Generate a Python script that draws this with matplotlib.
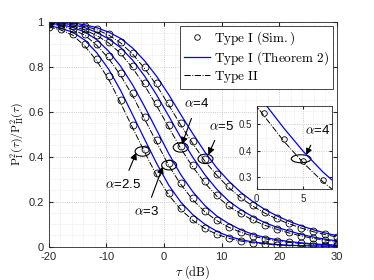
import numpy as np
import matplotlib
matplotlib.use("Agg")
import matplotlib.pyplot as plt
from matplotlib.patches import Ellipse
from matplotlib.ticker import MultipleLocator

plt.rcParams['font.family'] = ['Liberation Sans', 'DejaVu Sans']
plt.rcParams['mathtext.fontset'] = 'cm'
plt.rcParams['axes.unicode_minus'] = False

### data ---------------------------------------------------------------------
tau = np.linspace(-20, 30, 25)   # dB, simulation points

# Type I (Sim.) markers
sim_a25 = [0.978, 0.965, 0.945, 0.900, 0.835, 0.756, 0.650, 0.540, 0.432, 0.326, 0.237, 0.171, 0.122,
           0.084, 0.057, 0.038, 0.026, 0.018, 0.012, 0.008, 0.0055, 0.004, 0.003, 0.002, 0.0015]
sim_a3 = [0.990, 0.983, 0.968, 0.945, 0.902, 0.845, 0.771, 0.682, 0.578, 0.474, 0.370, 0.285, 0.215,
          0.160, 0.120, 0.089, 0.066, 0.048, 0.036, 0.027, 0.020, 0.015, 0.011, 0.008, 0.006]
sim_a4 = [0.995, 0.991, 0.982, 0.966, 0.942, 0.910, 0.866, 0.802, 0.726, 0.637, 0.541, 0.446, 0.363,
          0.290, 0.230, 0.183, 0.150, 0.121, 0.097, 0.079, 0.063, 0.049, 0.038, 0.030, 0.023]
sim_a5 = [0.998, 0.996, 0.992, 0.982, 0.967, 0.944, 0.911, 0.862, 0.800, 0.726, 0.640, 0.550, 0.468,
          0.388, 0.324, 0.268, 0.222, 0.184, 0.152, 0.126, 0.104, 0.085, 0.069, 0.055, 0.044]

# Type I (Theorem 2), blue lines
thm_a25 = [0.983, 0.970, 0.953, 0.918, 0.862, 0.788, 0.693, 0.585, 0.476, 0.369, 0.273, 0.198, 0.142,
           0.100, 0.068, 0.046, 0.031, 0.021, 0.0145, 0.0096, 0.0065, 0.0046, 0.0034, 0.0024, 0.0017]
thm_a3 = [0.993, 0.986, 0.974, 0.954, 0.920, 0.868, 0.801, 0.718, 0.621, 0.517, 0.413, 0.320, 0.244,
          0.183, 0.136, 0.102, 0.075, 0.055, 0.041, 0.031, 0.023, 0.017, 0.0126, 0.0092, 0.0068]
thm_a4 = [0.997, 0.993, 0.986, 0.973, 0.952, 0.923, 0.884, 0.828, 0.757, 0.673, 0.580, 0.485, 0.397,
          0.320, 0.255, 0.202, 0.164, 0.133, 0.107, 0.086, 0.070, 0.055, 0.043, 0.033, 0.026]
thm_a5 = [0.999, 0.997, 0.994, 0.986, 0.973, 0.953, 0.925, 0.882, 0.825, 0.756, 0.675, 0.587, 0.502,
          0.421, 0.350, 0.291, 0.241, 0.200, 0.165, 0.137, 0.113, 0.093, 0.076, 0.061, 0.049]

# Type II, dash-dot lines
t2_a25 = [0.976, 0.963, 0.940, 0.892, 0.826, 0.743, 0.637, 0.527, 0.419, 0.315, 0.229, 0.165, 0.117,
          0.081, 0.055, 0.037, 0.025, 0.017, 0.0115, 0.0077, 0.0053, 0.0039, 0.0029, 0.0019, 0.0014]
t2_a3 = [0.989, 0.981, 0.965, 0.940, 0.895, 0.836, 0.760, 0.670, 0.566, 0.462, 0.360, 0.277, 0.208,
         0.155, 0.116, 0.086, 0.064, 0.0466, 0.035, 0.026, 0.0194, 0.0145, 0.0106, 0.0078, 0.0058]
t2_a4 = [0.9945, 0.990, 0.980, 0.963, 0.938, 0.905, 0.858, 0.793, 0.715, 0.625, 0.530, 0.436, 0.354,
         0.283, 0.224, 0.179, 0.1465, 0.118, 0.095, 0.077, 0.061, 0.048, 0.037, 0.029, 0.0225]
t2_a5 = [0.998, 0.9955, 0.991, 0.980, 0.964, 0.940, 0.905, 0.855, 0.791, 0.716, 0.629, 0.540, 0.458,
         0.380, 0.317, 0.262, 0.217, 0.180, 0.149, 0.123, 0.102, 0.083, 0.067, 0.054, 0.043]

sims = [sim_a25, sim_a3, sim_a4, sim_a5]
thms = [thm_a25, thm_a3, thm_a4, thm_a5]
t2s = [t2_a25, t2_a3, t2_a4, t2_a5]

# annotations: label, ellipse centre, text position, arrow tip
ann_labels = [r'$\alpha$=2.5', r'$\alpha$=3', r'$\alpha$=4', r'$\alpha$=5']
ell_xy = [(-3.7, 0.423), (0.9, 0.362), (2.9, 0.441), (7.2, 0.390)]
txt_xy = [(-7.1, 0.275), (-3.1, 0.155), (5.7, 0.634), (9.9, 0.536)]
tip_xy = [(-4.8, 0.418), (-0.2, 0.356), (3.1, 0.455), (7.7, 0.408)]

BLUE = '#0000ff'


def style_axes(ax, fs):
    ax.set_facecolor('white')
    ax.grid(True, which='major', linestyle=':', color='#bdbdbd', linewidth=0.6)
    ax.grid(True, which='minor', linestyle=':', color='#dedede', linewidth=0.5)
    ax.tick_params(which='both', direction='in', top=True, right=True,
                   labelsize=fs, colors='#262626', length=3)
    ax.tick_params(which='minor', length=0)
    for s in ax.spines.values():
        s.set_color('#262626')
        s.set_linewidth(0.6)
    ax.set_axisbelow(True)


fig = plt.figure(figsize=(3.74, 2.80), dpi=100)
ax = fig.add_axes([0.13, 0.119, 0.771, 0.804])

for sim, thm, t2 in zip(sims, thms, t2s):
    ax.plot(tau, t2, '-.', color='black', lw=0.7)
    ax.plot(tau, thm, '-', color=BLUE, lw=0.9)
    ax.plot(tau, sim, 'o', mfc='none', mec='black', ms=5, mew=0.6)

# legend handles
h1, = ax.plot([], [], 'o', mfc='none', mec='black', ms=4, mew=0.6)
h2, = ax.plot([], [], '-', color=BLUE, lw=0.9)
h3, = ax.plot([], [], '-.', color='black', lw=0.7)
leg = ax.legend([h1, h2, h3],
                [r'$\mathrm{Type\ I\ (Sim.)}$', r'$\mathrm{Type\ I\ (Theorem\ 2)}$', r'$\mathrm{Type\ II}$'],
                loc='upper right', fontsize=9.5, handlelength=2.0, handletextpad=0.3,
                borderpad=0.3, labelspacing=0.15, borderaxespad=0.3, fancybox=False, framealpha=1)
leg.get_frame().set_edgecolor('#262626')
leg.get_frame().set_linewidth(0.6)

for lab, exy, txy, pxy in zip(ann_labels, ell_xy, txt_xy, tip_xy):
    ax.add_patch(Ellipse(exy, 2.6, 0.042, fill=False, ec='black', lw=0.8))
    ax.annotate(lab, xy=pxy, xytext=txy, ha='center', va='center', fontsize=9.5,
                arrowprops=dict(arrowstyle='-|>', color='black', lw=0.8, mutation_scale=10,
                                shrinkA=4, shrinkB=0))

ax.set_xlim(-20, 30)
ax.set_ylim(0, 1)
ax.set_xticks(range(-20, 31, 10))
ax.set_yticks([0, 0.2, 0.4, 0.6, 0.8, 1])
ax.set_yticklabels(['0', '0.2', '0.4', '0.6', '0.8', '1'])
ax.xaxis.set_minor_locator(MultipleLocator(2))
ax.yaxis.set_minor_locator(MultipleLocator(0.05))
style_axes(ax, 8)
ax.set_xlabel(r'$\tau\ \mathrm{(dB)}$', fontsize=9, labelpad=1)
ax.set_ylabel(r'$\mathrm{P}_{\mathrm{I}}^{2}(\tau)/\mathrm{P}_{\mathrm{II}}^{2}(\tau)$', fontsize=8.5, labelpad=2)

### inset: zoom on alpha = 4 --------------------------------------------------
axin = fig.add_axes([0.686, 0.324, 0.2005, 0.2986])
axin.plot(tau, t2_a4, '-.', color='black', lw=0.7)
axin.plot(tau, thm_a4, '-', color=BLUE, lw=0.9)
axin.plot(tau, sim_a4, 'o', mfc='none', mec='black', ms=4, mew=0.6)
axin.add_patch(Ellipse((4.75, 0.37), 2.1, 0.03, fill=False, ec='black', lw=0.8))
axin.annotate(r'$\alpha$=4', xy=(5.3, 0.385), xytext=(6.5, 0.475), ha='center', va='center',
              fontsize=9.5, arrowprops=dict(arrowstyle='-|>', color='black', lw=0.8,
                                            mutation_scale=9, shrinkA=4, shrinkB=0))
axin.set_xlim(0, 8)
axin.set_ylim(0.255, 0.57)
axin.set_xticks([0, 5])
axin.set_yticks([0.3, 0.4, 0.5])
axin.xaxis.set_minor_locator(MultipleLocator(1))
axin.yaxis.set_minor_locator(MultipleLocator(0.05))
style_axes(axin, 7)
axin.tick_params(which='major', length=2)

fig.savefig('out.png', dpi=100)
